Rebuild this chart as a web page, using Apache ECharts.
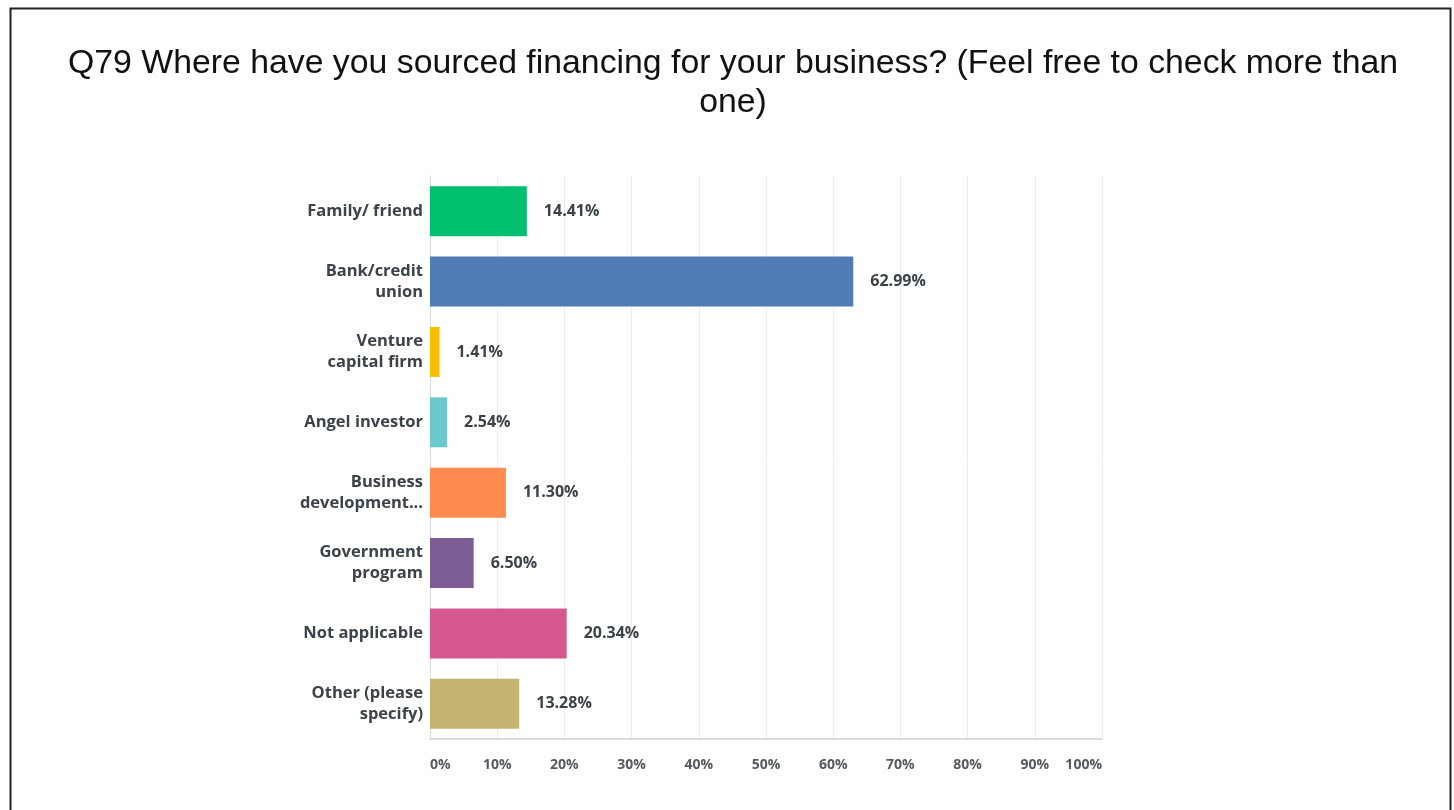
<!DOCTYPE html>
<html>
<head>
<meta charset="utf-8">
<title>Q79 Financing sources</title>
<script src="https://cdn.jsdelivr.net/npm/echarts@6/dist/echarts.min.js"></script>
<style>
  html, body { margin: 0; padding: 0; background: #ffffff; }
  #chart { width: 1454px; height: 810px; }
</style>
</head>
<body>
<div id="chart"></div>
<script>
// Survey answers (share of respondents, %)
const categories = [
  'Family/ friend',
  'Bank/credit\nunion',
  'Venture\ncapital firm',
  'Angel investor',
  'Business\ndevelopment...',
  'Government\nprogram',
  'Not applicable',
  'Other (please\nspecify)'
];
const values = [14.41, 62.99, 1.41, 2.54, 11.30, 6.50, 20.34, 13.28];
const barColors = ['#00BF6F', '#507CB6', '#F9BE00', '#6BC8CD', '#FF8B4F', '#7D5C95', '#D5598F', '#C4B474'];
const titleText = 'Q79 Where have you sourced financing for your business? (Feel free to check more than\none)';

const chart = echarts.init(document.getElementById('chart'), null, { renderer: 'canvas' });

chart.setOption({
  backgroundColor: '#ffffff',
  animation: false,
  title: {
    text: titleText,
    left: 728,
    textAlign: 'center',
    top: 39,
    textStyle: {
      fontFamily: '"Liberation Sans", Arial, sans-serif',
      fontSize: 33.8,
      fontWeight: 'normal',
      color: '#111111',
      lineHeight: 39
    }
  },
  graphic: [{
    type: 'rect',
    left: 8,
    top: 6,
    shape: { width: 1440, height: 830 },
    style: { fill: 'none', stroke: '#222222', lineWidth: 2 },
    silent: true
  }],
  grid: { left: 430, right: 352, top: 176, bottom: 71 },
  xAxis: {
    type: 'value',
    min: 0,
    max: 100,
    interval: 10,
    axisLine: { show: true, lineStyle: { color: '#d0d0d0', width: 1.5 } },
    axisTick: { show: false },
    splitLine: { show: true, lineStyle: { color: '#ececec', width: 1 } },
    axisLabel: {
      formatter: '{value}%',
      margin: 19,
      fontFamily: '"Open Sans", sans-serif',
      fontWeight: 'bold',
      fontSize: 14,
      color: '#555a60',
      alignMinLabel: 'left',
      alignMaxLabel: 'right'
    }
  },
  yAxis: {
    type: 'category',
    inverse: true,
    data: categories,
    axisLine: { show: true, lineStyle: { color: '#dcdcdc', width: 1 } },
    axisTick: { show: false },
    axisLabel: {
      margin: 7,
      fontFamily: '"Open Sans", sans-serif',
      fontWeight: 'bold',
      fontSize: 16.5,
      lineHeight: 21,
      color: '#3b4249'
    }
  },
  series: [{
    type: 'bar',
    data: values.map((v, i) => ({ value: v, itemStyle: { color: barColors[i] } })),
    barCategoryGap: '29%',
    label: {
      show: true,
      position: 'right',
      distance: 17,
      formatter: (p) => p.value.toFixed(2) + '%',
      fontFamily: '"Open Sans", sans-serif',
      fontWeight: 'bold',
      fontSize: 16,
      color: '#3b4249'
    }
  }]
});
</script>
</body>
</html>
